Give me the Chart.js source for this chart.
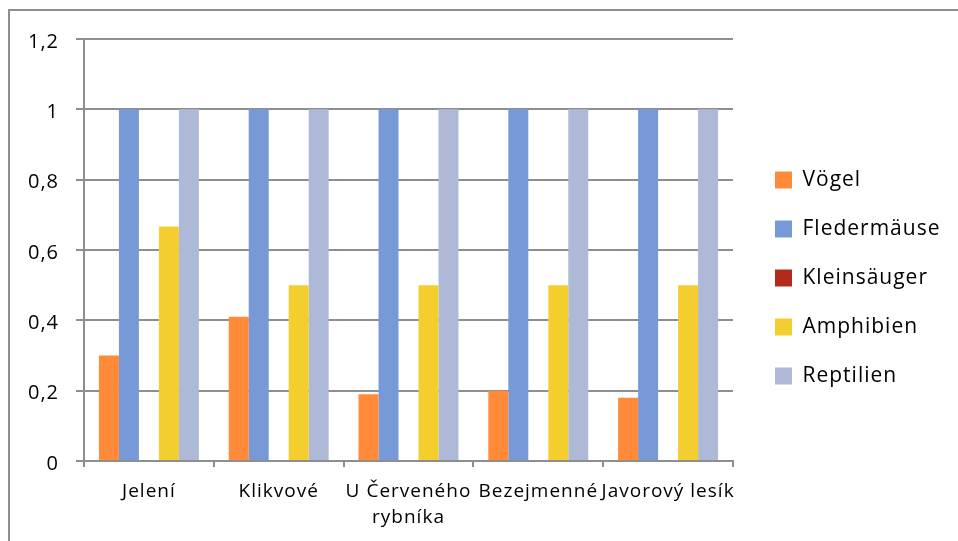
<!DOCTYPE html>
<html>
<head>
<meta charset="utf-8">
<script src="https://cdn.jsdelivr.net/npm/chart.js@4/dist/chart.umd.min.js"></script>
<style>
  html, body { margin: 0; padding: 0; background: #ffffff; }
  #wrap { position: relative; width: 958px; height: 541px; overflow: hidden; }
  #frame { position: absolute; left: 8px; top: 9px; width: 2000px; height: 2000px;
           border-left: 2px solid #8e8e8e; border-top: 2px solid #8e8e8e; }
  #c { position: absolute; left: 0; top: 0; }
</style>
</head>
<body>
<div id="wrap">
  <div id="frame"></div>
  <canvas id="c" width="958" height="541"></canvas>
</div>
<script>
// ---- data ----
const categories = ['Jelení', 'Klikvové', ['U Červeného', 'rybníka'], 'Bezejmenné', 'Javorový lesík'];
const seriesNames = ['Vögel', 'Fledermäuse', 'Kleinsäuger', 'Amphibien', 'Reptilien'];
const voegel       = [0.30, 0.41, 0.19, 0.20, 0.18];
const fledermaeuse = [1, 1, 1, 1, 1];
const kleinsaeuger = [0, 0, 0, 0, 0];
const amphibien    = [0.667, 0.5, 0.5, 0.5, 0.5];
const reptilien    = [1, 1, 1, 1, 1];
const yTickLabels  = ['0', '0,2', '0,4', '0,6', '0,8', '1', '1,2'];

// ---- styling ----
const colors = ['#FF8A3A', '#7799D8', '#B42A1A', '#F4CD2E', '#AEB9D7'];
const gridColor = '#8e8e8e';
const FONT = 'Open Sans';
const LETTER_SPACING = '1px';

const tweaks = {
  id: 'tweaks',
  beforeLayout(chart) {
    chart.ctx.letterSpacing = LETTER_SPACING;
    const lg = chart.legend;
    if (lg && !lg._fitWrapped) {
      const fit = lg.fit.bind(lg);
      lg.fit = function () { fit(); this.width = 225; };
      lg._fitWrapped = true;
    }
  },
  afterLayout(chart) {
    const lg = chart.legend;
    if (lg) { lg.left += 14; lg.right += 14; lg.top -= 12; lg.bottom -= 12; }
  },
  beforeDraw(chart) {
    chart.ctx.letterSpacing = LETTER_SPACING;
  }
};

const seriesValues = [voegel, fledermaeuse, kleinsaeuger, amphibien, reptilien];

new Chart(document.getElementById('c'), {
  type: 'bar',
  data: {
    labels: categories,
    datasets: seriesNames.map((name, i) => ({
      label: name,
      data: seriesValues[i],
      backgroundColor: colors[i],
      borderWidth: 0,
      barPercentage: 1,
      categoryPercentage: 0.77
    }))
  },
  options: {
    responsive: false,
    animation: false,
    layout: { padding: { top: 39, bottom: 0, left: 0, right: 0 } },
    plugins: {
      tooltip: { enabled: false },
      title: { display: false },
      legend: {
        position: 'right',
        labels: {
          boxWidth: 17,
          boxHeight: 17,
          padding: 28,
          color: '#000000',
          font: { family: FONT, size: 21 }
        }
      }
    },
    scales: {
      x: {
        grid: {
          display: true,
          drawOnChartArea: false,
          drawTicks: true,
          tickLength: 6,
          offset: true,
          color: gridColor,
          lineWidth: 2
        },
        border: { display: true, color: gridColor, width: 2 },
        ticks: {
          autoSkip: false,
          maxRotation: 0,
          minRotation: 0,
          padding: 11,
          color: '#000000',
          font: { family: FONT, size: 19, lineHeight: 1.4 }
        },
        afterFit(scale) { scale.height = 80; }
      },
      y: {
        min: 0,
        max: 1.2,
        grid: {
          color: gridColor,
          lineWidth: 2,
          drawTicks: true,
          tickLength: 8
        },
        border: { display: true, color: gridColor, width: 2 },
        ticks: {
          stepSize: 0.2,
          padding: 17,
          labelOffset: 3,
          color: '#000000',
          font: { family: FONT, size: 20 },
          callback: (value, index) => yTickLabels[index]
        },
        afterFit(scale) { scale.width = 84; }
      }
    }
  },
  plugins: [tweaks]
});
</script>
</body>
</html>
